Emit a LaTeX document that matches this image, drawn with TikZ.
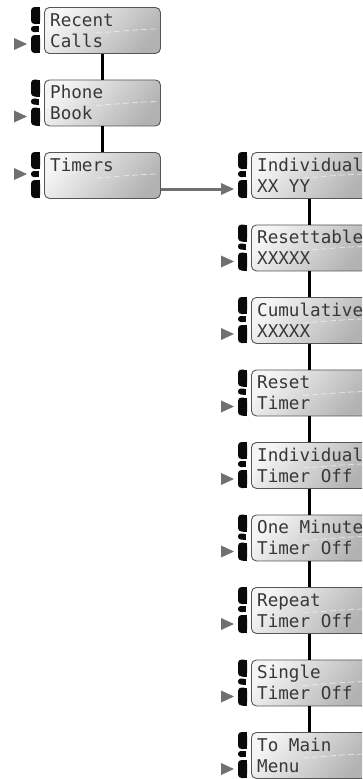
\documentclass[tikz,border=0pt]{standalone}
\usepackage{fontspec}
\newfontfamily\lcdfont{DejaVu Sans Mono}
\definecolor{keycol}{HTML}{0A0A0A}
\definecolor{tricol}{HTML}{707070}
\definecolor{boxline}{HTML}{555555}
\tikzset{
  lcd/.style={draw=boxline, line width=0.9pt, rounded corners=5pt,
    minimum width=116pt, minimum height=46pt, inner sep=0pt, anchor=north west,
    top color=white!96!black, bottom color=black!30, shading angle=50},
  lcdtext/.style={anchor=base west, inner sep=0pt, font=\lcdfont\fontsize{17.6}{21}\selectfont, text=black!78},
  conn/.style={draw=black, line width=2.3pt},
  arrowline/.style={draw=tricol, line width=3pt},
  shine/.style={draw=white, line width=0.8pt, opacity=0.55, dash pattern=on 6pt off 3pt}
}
\newcommand\lcdunit[6]{%
  \node[lcd] (#1) at (#2,#3) {};
  \node[lcdtext] (#1-a) at (#2+6,#3+19) {#4};
  \node[lcdtext] (#1-b) at (#2+6,#3+40) {#5};
  \draw[shine] (#2+52,#3+26) .. controls (#2+80,#3+24) and (#2+100,#3+22) .. (#2+115,#3+22);
  \fill[keycol, rounded corners=3.5pt] (#2-13,#3) rectangle (#2-4,#3+17);
  \fill[keycol] (#2-8,#3) rectangle (#2-4,#3+17);
  \fill[keycol, rounded corners=2.8pt] (#2-13,#3+19) rectangle (#2-5,#3+25);
  \fill[keycol] (#2-8,#3+19) rectangle (#2-5,#3+25);
  \fill[keycol, rounded corners=3.5pt] (#2-13,#3+28) rectangle (#2-4,#3+46);
  \fill[keycol] (#2-8,#3+28) rectangle (#2-4,#3+46);
  \ifcase#6\relax
  \or \fill[tricol] (#2-17,#3+22) -- (#2-30,#3+16) -- (#2-30,#3+28) -- cycle;
  \or \fill[tricol] (#2-17,#3+37) -- (#2-30,#3+31) -- (#2-30,#3+43) -- cycle;
  \fi
}
\begin{document}
\begin{tikzpicture}[x=1pt,y=-1pt]
\useasboundingbox (0,0) rectangle (362,779);
\fill[white] (0,0) rectangle (362,779);
\clip (0,0) rectangle (362,779);
% left column
\lcdunit{recent}{44}{7}{Recent}{Calls}{2}
\lcdunit{phone}{44}{79.5}{Phone}{Book}{2}
\lcdunit{timers}{44}{152}{Timers}{}{1}
% right column
\lcdunit{indiv}{251}{152}{Individual}{XX YY}{2}
\lcdunit{reset}{251}{224.5}{Resettable}{XXXXX}{2}
\lcdunit{cumul}{251}{297}{Cumulative}{XXXXX}{2}
\lcdunit{rtimer}{251}{369.5}{Reset}{Timer}{2}
\lcdunit{itoff}{251}{442}{Individual}{Timer Off}{2}
\lcdunit{oneminute}{251}{514.5}{One Minute}{Timer Off}{2}
\lcdunit{repeat}{251}{587}{Repeat}{Timer Off}{2}
\lcdunit{single}{251}{659.5}{Single}{Timer Off}{2}
\lcdunit{tomain}{251}{732}{To Main}{Menu}{2}
% connectors
\draw[conn] (recent.south) -- (phone.north);
\draw[conn] (phone.south) -- (timers.north);
\draw[conn] (indiv.south) -- (reset.north);
\draw[conn] (reset.south) -- (cumul.north);
\draw[conn] (cumul.south) -- (rtimer.north);
\draw[conn] (rtimer.south) -- (itoff.north);
\draw[conn] (itoff.south) -- (oneminute.north);
\draw[conn] (oneminute.south) -- (repeat.north);
\draw[conn] (repeat.south) -- (single.north);
\draw[conn] (single.south) -- (tomain.north);
\coordinate (indin) at (251-28,152+37);
\draw[arrowline] (timers.east |- indin) -- (indin);
\end{tikzpicture}
\end{document}
